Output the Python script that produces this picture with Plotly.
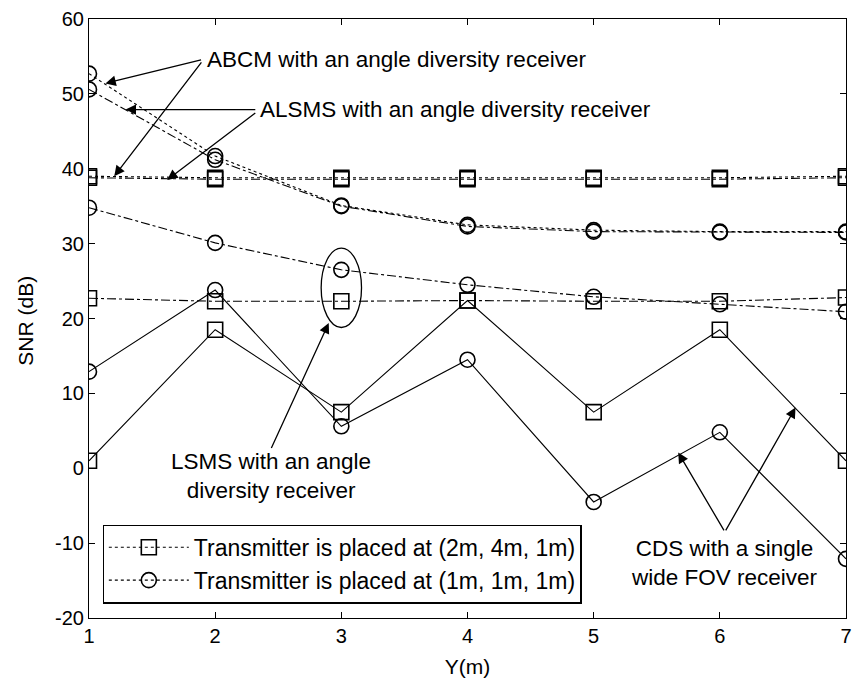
import plotly.graph_objects as go

# Receiver positions along the room (m)
y_pos = [1, 2, 3, 4, 5, 6, 7]

# SNR (dB), transmitter at (2m, 4m, 1m)
abcm_sq = [39.0, 38.8, 38.8, 38.8, 38.8, 38.8, 39.0]
alsms_sq = [38.8, 38.6, 38.6, 38.6, 38.6, 38.6, 38.8]
lsms_sq = [22.7, 22.3, 22.3, 22.4, 22.3, 22.3, 22.8]
cds_sq = [1.0, 18.5, 7.5, 22.4, 7.5, 18.5, 1.0]

# SNR (dB), transmitter at (1m, 1m, 1m)
abcm_ci = [52.7, 41.7, 35.1, 32.5, 31.8, 31.6, 31.6]
alsms_ci = [50.6, 41.2, 35.0, 32.3, 31.6, 31.5, 31.5]
lsms_ci = [34.8, 30.1, 26.5, 24.5, 22.9, 21.9, 20.9]
cds_ci = [12.9, 23.8, 5.6, 14.5, -4.5, 4.8, -12.1]

legend_names = ["Transmitter is placed at (2m, 4m, 1m)",
                "Transmitter is placed at (1m, 1m, 1m)"]

y_ticks = [-20, -10, 0, 10, 20, 30, 40, 50, 60]
y_tick_text = ["-20", "-10", "0", "10", "20", "30", "40", "50", "60"]

FONT = "Liberation Sans, Arial, sans-serif"
fig = go.Figure()

def add(vals, symbol, dash, name=None):
    fig.add_trace(go.Scatter(
        x=y_pos, y=vals, mode="lines+markers",
        line=dict(color="black", width=1.1, dash=dash),
        marker=dict(symbol=symbol, size=15, color="black",
                    line=dict(color="black", width=1.6)),
        name=name or "", showlegend=name is not None,
    ))

add(abcm_sq, "square-open", "dot", legend_names[0])
add(abcm_ci, "circle-open", "dot", legend_names[1])
add(alsms_sq, "square-open", "dashdot")
add(alsms_ci, "circle-open", "dashdot")
add(lsms_sq, "square-open", "dashdot")
add(lsms_ci, "circle-open", "dashdot")
add(cds_sq, "square-open", "solid")
add(cds_ci, "circle-open", "solid")

def arrow(tx, ty, hx, hy):
    fig.add_annotation(x=hx, y=hy, ax=tx, ay=ty, xref="x", yref="y",
                       axref="x", ayref="y", text="", showarrow=True,
                       arrowhead=2, arrowsize=1.6, arrowwidth=1.3,
                       arrowcolor="black", standoff=0, startstandoff=0)

def label(x, y, text, anchor):
    fig.add_annotation(x=x, y=y, xref="x", yref="y", text=text,
                       showarrow=False, xanchor=anchor, yanchor="middle",
                       font=dict(family=FONT, size=22.5, color="black"))

# ABCM
label(1.92, 54.6, "ABCM with an angle diversity receiver", "left")
arrow(1.9, 54.6, 1.13, 51.4)
arrow(1.9, 54.4, 1.2, 39.0)
# ALSMS
label(2.34, 47.9, "ALSMS with an angle diversity receiver", "left")
arrow(2.33, 47.9, 1.29, 47.9)
arrow(2.33, 47.6, 1.62, 38.5)
# LSMS
fig.add_shape(type="circle", xref="x", yref="y", x0=2.84, x1=3.16,
              y0=18.8, y1=29.4, line=dict(color="black", width=1.3))
arrow(2.44, 2.5, 2.9, 19.4)
label(2.44, -1.1, "LSMS with an angle<br>diversity receiver", "center")
# CDS
arrow(6.04, -8.5, 5.67, 2.1)
arrow(6.04, -8.5, 6.6, 8.1)
label(6.04, -12.6, "CDS with a single<br>wide FOV receiver", "center")

# y-axis title placed beside the tick labels
fig.add_annotation(x=-0.084, y=0.497, xref="paper", yref="paper",
                   text="SNR (dB)", textangle=-90, showarrow=False,
                   xanchor="center", yanchor="middle",
                   font=dict(family=FONT, size=21, color="black"))

axis_common = dict(showgrid=False, zeroline=False, showline=True,
                   linecolor="black", linewidth=1.2, mirror="ticks",
                   ticks="inside", ticklen=6, tickcolor="black",
                   ticklabeloverflow="allow",
                   tickfont=dict(family=FONT, size=20, color="black"))

fig.update_xaxes(range=[1, 7], dtick=1, tick0=1,
                 title=dict(text="Y(m)", standoff=13,
                            font=dict(family=FONT, size=21, color="black")),
                 **axis_common)
fig.update_yaxes(range=[-20, 60], tickmode="array", tickvals=y_ticks,
                 ticktext=y_tick_text, **axis_common)

fig.update_layout(
    width=856, height=682,
    margin=dict(l=89, r=4, t=19, b=64),
    paper_bgcolor="white", plot_bgcolor="white",
    legend=dict(x=0.018, y=0.024, xanchor="left", yanchor="bottom",
                bgcolor="white", bordercolor="black", borderwidth=1.2,
                itemwidth=80, tracegroupgap=0,
                font=dict(family=FONT, size=23, color="black")),
)

fig.write_html("out.html")
